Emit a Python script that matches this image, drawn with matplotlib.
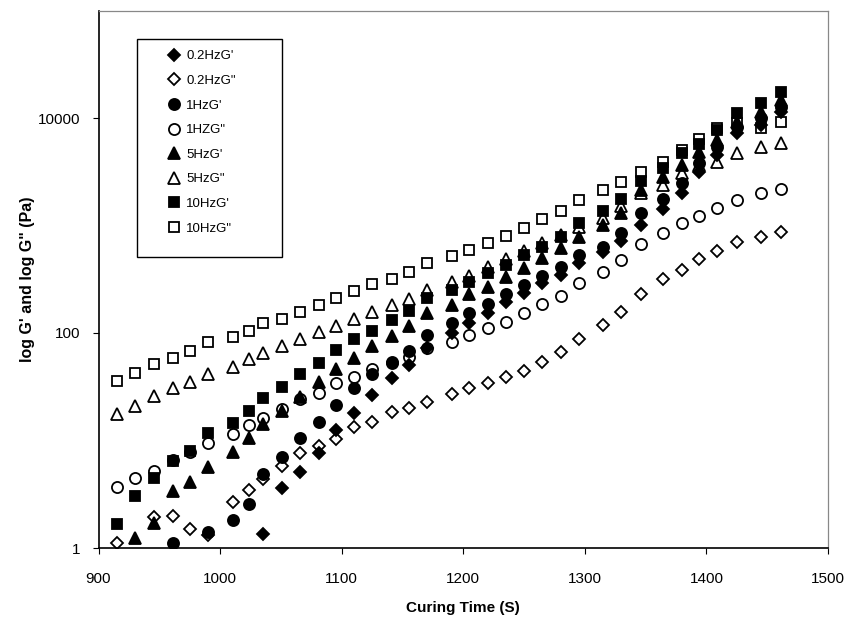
import matplotlib.pyplot as plt
from matplotlib.patches import Rectangle

plt.rcParams['font.family'] = ['Liberation Sans', 'DejaVu Sans']

# curing time (s) at which each reading was taken
time_all = [915, 930, 946, 961, 975, 990, 1011, 1024, 1035, 1051, 1066, 1081,
            1095, 1110, 1125, 1141, 1155, 1170, 1191, 1205, 1220, 1235, 1250,
            1265, 1280, 1295, 1315, 1330, 1346, 1364, 1380, 1394, 1409, 1425,
            1445, 1461]

# 0.2 Hz
g1_02 = [1.34, 3.59, 5.13, 7.60, 12.5, 17.9, 26.5, 38.1, 50.4, 72.0, 99.4, 123,
         154, 196, 234, 290, 346, 451, 571, 722, 1011, 1415, 1993, 3166, 4527,
         7205, 8610, 11450]
time_g1_02 = time_all[8:]
g2_02 = [1.11, 1.93, 1.98, 1.49, 1.32, 2.70, 3.46, 4.36, 5.79, 7.70, 8.95, 10.3,
         13.4, 15.0, 18.5, 20.2, 23.0, 26.9, 31.0, 34.5, 38.7, 44.6, 53.4, 66.1,
         88.0, 119, 158, 231, 316, 385, 485, 583, 707, 787, 876]
time_g2_02 = [915] + time_all[2:]

# 1 Hz
g1_1 = [1.11, 1.42, 1.82, 2.57, 4.88, 7.07, 10.5, 15.0, 21.4, 30.6, 41.6, 54.1,
        68.4, 95.8, 125, 153, 186, 231, 280, 339, 414, 532, 635, 846, 1299,
        1752, 2470, 3790, 5408, 8300, 9931, 12580]
time_g1_1 = [961] + time_all[5:]
g2_1 = [3.72, 4.45, 5.24, 6.59, 7.82, 9.42, 11.5, 13.9, 16.3, 19.5, 24.2, 27.5,
        34.5, 39.2, 45.9, 52.6, 60.2, 72.5, 83.0, 95.8, 111, 127, 154, 185,
        222, 290, 372, 478, 668, 846, 1062, 1225, 1445, 1726, 1993, 2171]
time_g2_1 = time_all

# 5 Hz
g1_5 = [1.25, 1.72, 3.41, 4.14, 5.63, 7.87, 10.5, 14.1, 18.9, 25.2, 35.2, 45.9,
        58.9, 76.2, 93.8, 116, 153, 182, 231, 270, 334, 400, 495, 614, 787,
        1011, 1315, 2138, 2844, 3655, 4859, 6242, 9240, 11450, 14710]
time_g1_5 = time_all[1:]
g2_5 = [17.5, 20.9, 25.9, 30.6, 35.2, 41.6, 48.6, 56.9, 64.7, 75.7, 87.4, 101.5,
        117, 135, 156, 182, 209, 251, 297, 339, 411, 488, 579, 688, 816, 968,
        1167, 1518, 1993, 2406, 3059, 3655, 3922, 4694, 5408, 5817]
time_g2_5 = time_all

# 10 Hz
g1_10 = [1.66, 3.07, 4.45, 6.45, 7.99, 11.7, 14.6, 18.9, 24.7, 31.7, 41.3, 52.9,
         69.5, 88, 105, 132, 161, 212, 250, 295, 359, 429, 532, 635, 787, 1048,
         1373, 1752, 2594, 3404, 4694, 5728, 7728, 11060, 13700, 17570]
time_g1_10 = time_all
g2_10 = [35.8, 42.2, 51.2, 58.9, 68.0, 81.9, 91.2, 105, 123, 135, 156, 182, 210,
         246, 286, 316, 372, 445, 520, 592, 692, 798, 954, 1142, 1373, 1726,
         2138, 2555, 3166, 3922, 5036, 6337, 8123, 8980, 8017, 9240]
time_g2_10 = time_all

labels = ["0.2HzG'", '0.2HzG"', "1HzG'", '1HZG"', "5HzG'", '5HzG"', "10HzG'", '10HzG"']

W, H = 850, 624
fig = plt.figure(figsize=(W / 100, H / 100), dpi=100)
ax = fig.add_axes([98.5 / W, 1 - 548 / H, 729.5 / W, 537.5 / H])

series = [
    (time_g1_02, g1_02, 'D', True, 6.3),
    (time_g2_02, g2_02, 'D', False, 6.3),
    (time_g1_1, g1_1, 'o', True, 8),
    (time_g2_1, g2_1, 'o', False, 8),
    (time_g1_5, g1_5, '^', True, 8.5),
    (time_g2_5, g2_5, '^', False, 8.5),
    (time_g1_10, g1_10, 's', True, 7.6),
    (time_g2_10, g2_10, 's', False, 7.6),
]
for (x, y, m, filled, ms), lab in zip(series, labels):
    ax.plot(x, y, linestyle='none', marker=m, markersize=ms,
            markerfacecolor='black' if filled else 'none',
            markeredgecolor='black', markeredgewidth=1.3, label=lab)

ax.set_yscale('log')
ax.set_xlim(900, 1500)
ax.set_ylim(1, 100000)
ax.set_xticks(range(900, 1501, 100))
ax.set_yticks([1, 100, 10000])
ax.set_yticklabels(['1', '100', '10000'])
ax.yaxis.set_minor_locator(plt.NullLocator())
ax.tick_params(axis='both', direction='out', length=4, width=0.8,
               labelsize=11, colors='black')
ax.tick_params(axis='x', pad=13)
ax.tick_params(axis='y', pad=9)

for s in ['left', 'bottom']:
    ax.spines[s].set_linewidth(1.2)
for s in ['top', 'right']:
    ax.spines[s].set_linewidth(0.9)
    ax.spines[s].set_color('#888888')
    ax.spines[s].set_linestyle((0, (2, 1)))

ax.set_xlabel('Curing Time (S)', fontsize=11, fontweight='bold')
ax.xaxis.set_label_coords(0.5, -(601 - 548) / 537.5)
ax.set_ylabel('log G\' and log G" (Pa)', fontsize=11.5, fontweight='bold')
ax.yaxis.set_label_coords(-(98.5 - 35) / 729.5, 0.5)

# legend box is drawn on its own, the entries sit inside it
fig.patches.append(Rectangle((137 / W, 1 - 257 / H), 145 / W, 218 / H,
                             transform=fig.transFigure, fill=False,
                             edgecolor='black', linewidth=1.0))
leg = ax.legend(loc='upper left', bbox_to_anchor=(167 / W, 1 - 50 / H),
                bbox_transform=fig.transFigure, frameon=False, fontsize=9.5,
                labelspacing=0.94, handlelength=1.0, handletextpad=0.45,
                borderpad=0, borderaxespad=0)

plt.savefig('out.png', dpi=100)
